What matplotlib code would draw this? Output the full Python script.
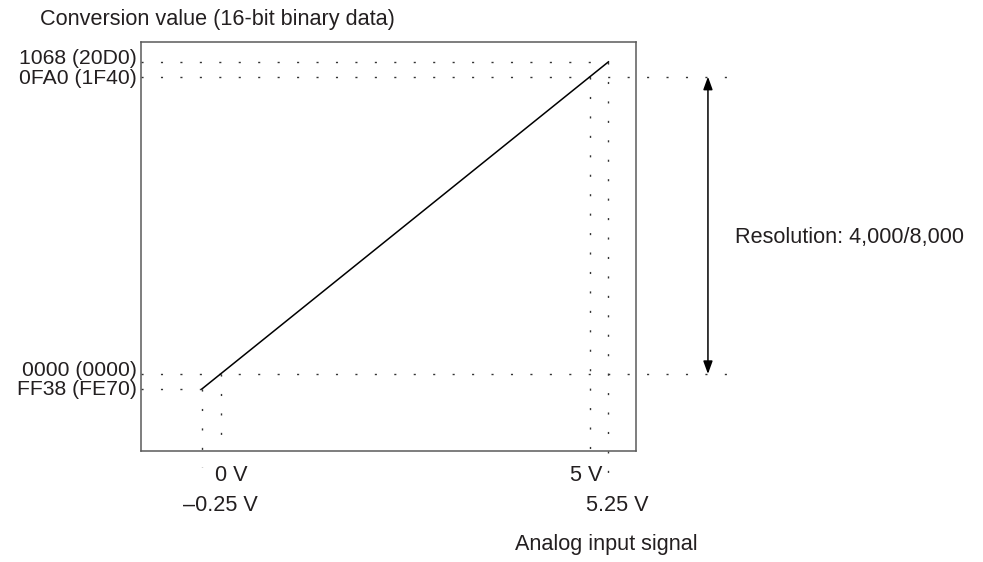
import matplotlib
matplotlib.use("Agg")
import matplotlib.pyplot as plt
import matplotlib.transforms as mtransforms

plt.rcParams['font.family'] = ['Liberation Sans', 'DejaVu Sans']
plt.rcParams['lines.scale_dashes'] = False

# ---- data ----
volts = [-0.25, 0.0, 5.0, 5.25]
codes = [-200, 0, 4000, 4200]
code_labels = ["FF38 (FE70)", "0000 (0000)", "0FA0 (1F40)", "1068 (20D0)"]
volt_labels = ["\u20130.25 V", "0 V", "5 V", "5.25 V"]
line_x = [-0.25, 5.25]
line_y = [-200, 4200]
title_text = "Conversion value (16-bit binary data)"
xlabel_text = "Analog input signal"
resolution_text = "Resolution: 4,000/8,000"

TXT = '#231f20'
FS = 15.6
FS_CODE = 15.2
dot = (0, (1.5, 12.5))

fig = plt.figure(figsize=(9.83, 5.62), dpi=100)
ax = fig.add_axes([140.7/983, 1-450.7/562, (636.5-140.7)/983, (450.7-41.7)/562])
ax.set_xlim(-1.08, 5.63)
ax.set_ylim(-1032, 4471)
for s in ax.spines.values():
    s.set_color('#5a5a5a')
    s.set_linewidth(1.1)
ax.set_xticks([])
ax.set_yticks([])

# code labels at the left of the box (small pixel nudges in points)
ytr = ax.get_yaxis_transform()
nudges_pt = [-0.8, 2.6, -1.3, 2.3]
for c, lab, dy in zip(codes, code_labels, nudges_pt):
    tr = mtransforms.offset_copy(ytr, fig=fig, x=-2.7, y=dy, units='points')
    ax.text(0.0, c, lab, transform=tr, fontsize=FS_CODE, color=TXT,
            ha='right', va='center', clip_on=False)

xl = ax.get_xlim()[0]
ylo = ax.get_ylim()[0]
kw = dict(color='#333333', lw=1.0, ls=dot, clip_on=False)
# horizontal reference lines
ax.plot([xl, volts[3]], [codes[3], codes[3]], **kw)
ax.plot([xl, 7.03], [codes[2], codes[2]], **kw)
ax.plot([xl, 7.03], [codes[1], codes[1]], **kw)
ax.plot([xl, volts[0]], [codes[0], codes[0]], **kw)
# vertical reference lines
ax.plot([volts[0], volts[0]], [codes[0], -1251], **kw)
ax.plot([volts[1], volts[1]], [codes[1], ylo], **kw)
ax.plot([volts[2], volts[2]], [codes[2], ylo], **kw)
ax.plot([volts[3], volts[3]], [codes[3], -1332], **kw)

# conversion line
ax.plot(line_x, line_y, color='black', lw=1.1, clip_on=False)

# resolution arrow
ax.annotate('', xy=(6.597, codes[2]), xytext=(6.597, codes[1]),
            arrowprops=dict(arrowstyle='<|-|>,head_length=0.55,head_width=0.2',
                            color='black', lw=1.1,
                            mutation_scale=14, shrinkA=0, shrinkB=0),
            annotation_clip=False)
ax.text(6.96, 1843, resolution_text, fontsize=FS, color=TXT,
        ha='left', va='center', clip_on=False)

# voltage labels (baseline positions)
row1 = (374 - 481) / 0.07433
row2 = (374 - 511) / 0.07433
ax.text(0.152, row1, volt_labels[1], fontsize=FS, color=TXT, ha='center', va='baseline', clip_on=False)
ax.text(4.955, row1, volt_labels[2], fontsize=FS, color=TXT, ha='center', va='baseline', clip_on=False)
ax.text(0.0, row2, volt_labels[0], fontsize=FS, color=TXT, ha='center', va='baseline', clip_on=False)
ax.text(5.365, row2, volt_labels[3], fontsize=FS, color=TXT, ha='center', va='baseline', clip_on=False)

fig.text(40/983, 1-25/562, title_text, fontsize=FS, color=TXT, ha='left', va='baseline')
fig.text(606/983, 1-550/562, xlabel_text, fontsize=FS, color=TXT, ha='center', va='baseline')

fig.savefig('out.png', dpi=100)
